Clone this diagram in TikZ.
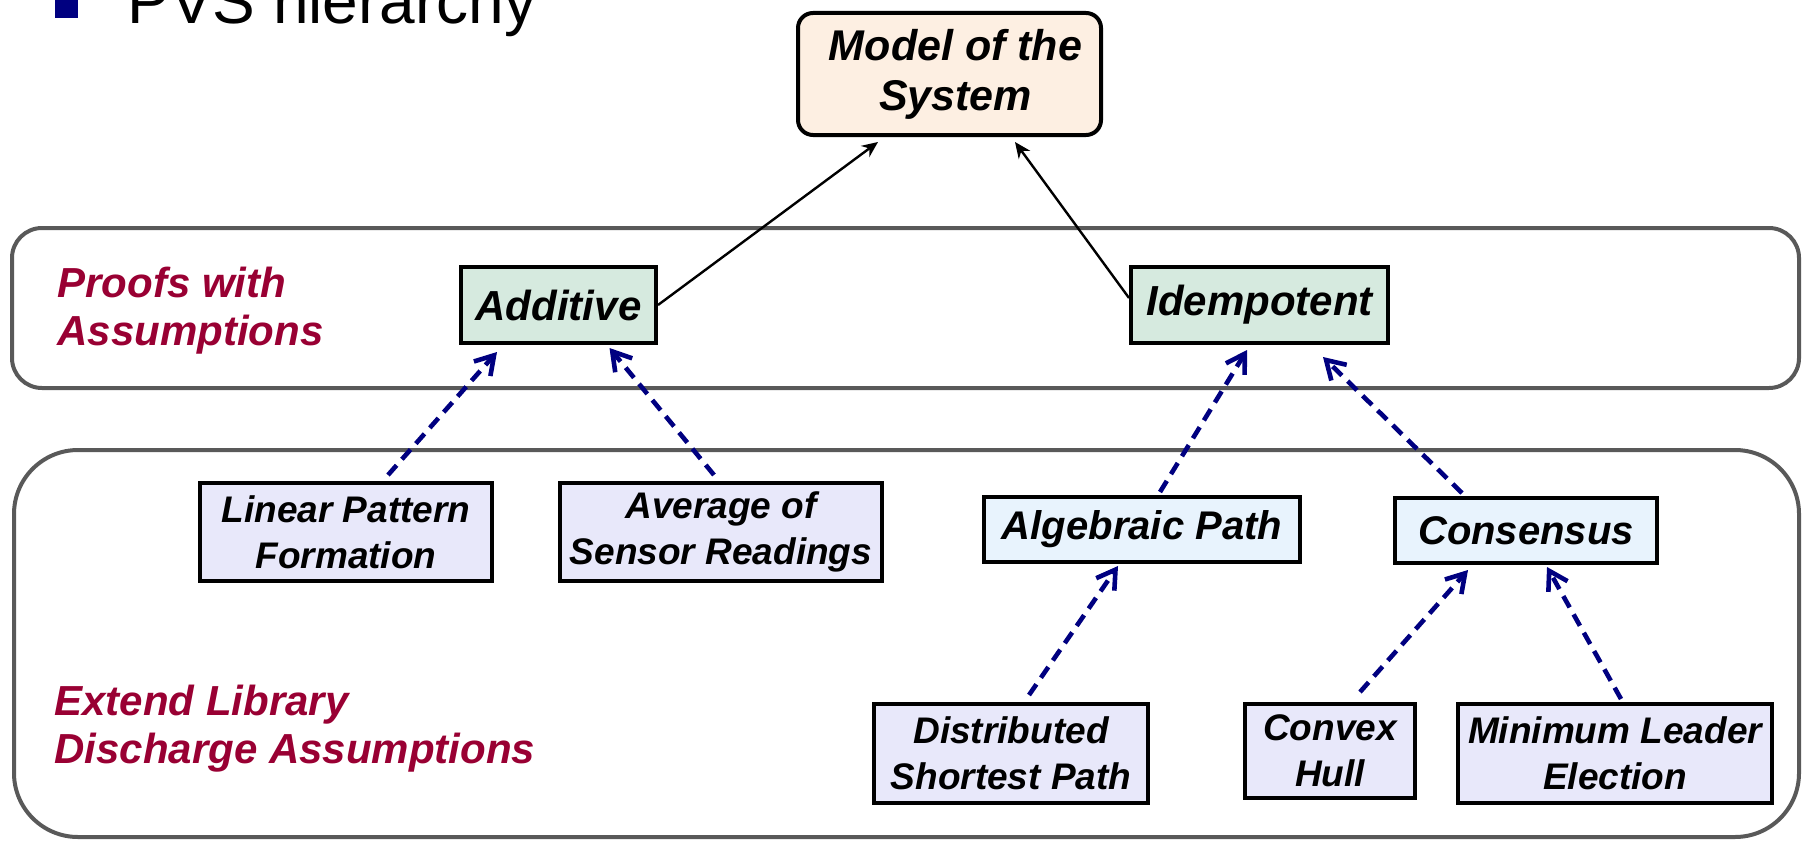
\documentclass[tikz,border=0pt]{standalone}
\usepackage{fontspec}
\setmainfont{Liberation Sans}
\usetikzlibrary{arrows.meta,calc}

\definecolor{navyblue}{HTML}{000080}
\definecolor{wine}{HTML}{990033}
\definecolor{bandgray}{HTML}{595959}
\definecolor{peach}{HTML}{FDEFE2}
\definecolor{mint}{HTML}{D6EADF}
\definecolor{icyblue}{HTML}{E8F3FD}
\definecolor{lavender}{HTML}{E8E8FA}

\begin{document}
\begin{tikzpicture}[x=0.5pt,y=-0.5pt,
  box/.style={draw=black, line width=2pt, inner sep=0pt, align=center},
  topbox/.style={box, fill=peach, rounded corners=7.5pt,
    font=\fontsize{21.5}{25}\selectfont\bfseries\itshape},
  midbox/.style={box, fill=mint,
    font=\fontsize{21}{25}\selectfont\bfseries\itshape},
  subbox/.style={box, fill=icyblue,
    font=\fontsize{20}{24}\selectfont\bfseries\itshape},
  leafbox/.style={box, fill=lavender,
    font=\fontsize{18.5}{23}\selectfont\bfseries\itshape},
  band/.style={draw=bandgray, line width=2pt},
  lab/.style={inner sep=0pt, anchor=base west, text=wine,
    font=\fontsize{21}{24}\selectfont\bfseries\itshape},
  solidarrow/.style={draw=black, line width=1.2pt,
    -{Stealth[length=8pt,width=7pt]}},
  dasharrow/.style={draw=navyblue, line width=2.3pt, dash pattern=on 6.5pt off 4pt,
    -{Straight Barb[length=9pt,width=11pt,line width=2.3pt]}}
]
\useasboundingbox (0,0) rectangle (1803,840);
\clip (0,0) rectangle (1803,840);

% heading
\fill[navyblue] (55,-2) rectangle (78,18);
\node[inner sep=0pt, anchor=base west, font=\fontsize{32}{38}\selectfont] (title) at (127,24) {PVS hierarchy};

% layer frames
\draw[band, rounded corners=15pt] (12,228) rectangle (1799,388);
\draw[band, rounded corners=32pt] (14,450) rectangle (1799,837);

% layer labels
\node[lab] (pw1) at (57,297) {Proofs with};
\node[lab] (pw2) at (57,345) {Assumptions};
\node[lab] (el1) at (54,715) {Extend Library};
\node[lab] (el2) at (54,763) {Discharge Assumptions};

% top model
\node[topbox, minimum width=151.5pt, minimum height=61pt] (model) at (949.5,74) {\hspace*{6pt}Model of the\\\hspace*{6pt}System};

% proofs with assumptions
\node[midbox, minimum width=97.5pt, minimum height=38pt] (additive) at (558.5,305) {Additive};
\node[midbox, minimum width=128.5pt, minimum height=38pt] (idem) at (1259.5,305) {Idempotent};

% library nodes
\node[leafbox, minimum width=146pt, minimum height=49pt] (linear) at (346,532) {Linear Pattern\\Formation};
\node[leafbox, minimum width=161pt, minimum height=49pt] (average) at (721,532) {Average of\\Sensor Readings};
\node[subbox, minimum width=158pt, minimum height=32.5pt] (algebraic) at (1142,529.5) {Algebraic Path};
\node[subbox, minimum width=131pt, minimum height=32.5pt] (consensus) at (1526,530.5) {Consensus};
\node[leafbox, minimum width=137pt, minimum height=49.5pt] (distributed) at (1011,753.5) {Distributed\\Shortest Path};
\node[leafbox, minimum width=85pt, minimum height=47pt] (convex) at (1330,751) {Convex\\Hull};
\node[leafbox, minimum width=157pt, minimum height=49.5pt] (minleader) at (1615,753.5) {Minimum Leader\\Election};

% refinement to the model
\draw[solidarrow] (additive.east) -- ($(model.south)+(-71.5,5)$);
\draw[solidarrow] ($(idem.west)+(0,-7)$) -- ($(model.south)+(65.5,5)$);

% library instances discharging assumptions
\draw[dasharrow] ($(linear.north)+(42,-6)$) -- ($(additive.south)+(-61.5,7)$);
\draw[dasharrow] ($(average.north)+(-7,-6)$) -- ($(additive.south)+(51,3)$);
\draw[dasharrow] ($(algebraic.north)+(18,-3)$) -- ($(idem.south)+(-12.5,5)$);
\draw[dasharrow] ($(consensus.north)+(-64,-3)$) -- ($(idem.south)+(63.5,12)$);
\draw[dasharrow] ($(distributed.north)+(18,-7)$) -- ($(algebraic.south)+(-24,2)$);
\draw[dasharrow] ($(convex.north)+(30,-10)$) -- ($(consensus.south)+(-58,5)$);
\draw[dasharrow] ($(minleader.north)+(6,-3)$) -- ($(consensus.south)+(21,2)$);
\end{tikzpicture}
\end{document}
